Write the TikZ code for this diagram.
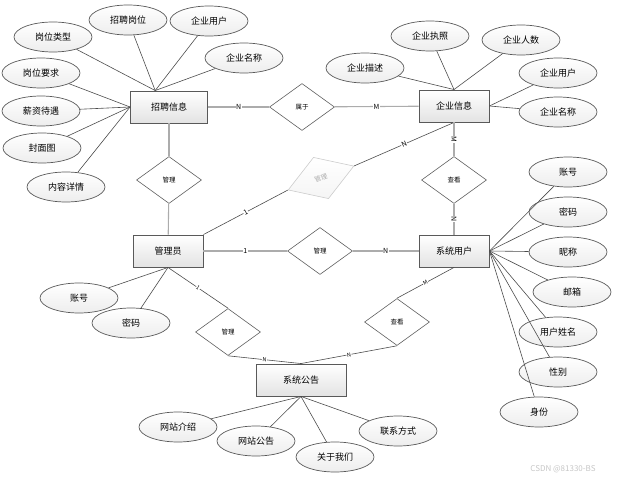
\documentclass[tikz,border=0pt]{standalone}
\usepackage{fontspec}
\setmainfont{Noto Sans CJK SC}
\usetikzlibrary{shapes.geometric}

\tikzset{
	ent/.style={draw=gray!70!black, line width=0.9pt, top color=white, bottom color=gray!22, minimum width=70pt, minimum height=32pt, inner sep=0pt, font=\fontsize{9}{10}\selectfont},
	attr/.style={ellipse, draw=gray!70!black, line width=0.7pt, top color=white, bottom color=gray!14, minimum width=78pt, minimum height=30pt, inner sep=0pt, font=\fontsize{9}{10}\selectfont},
	rel/.style={diamond, draw=gray!75!black, line width=0.6pt, fill=white, minimum width=65pt, minimum height=47pt, inner sep=0pt, font=\fontsize{6.5}{7}\selectfont},
	lnk/.style={draw=gray!60!black, line width=0.6pt},
	rln/.style={draw=gray!65, line width=1.1pt},
	card/.style={fill=white, inner sep=0.5pt, text=black, font=\fontsize{7}{8}\selectfont},
	smallcard/.style={card, font=\fontsize{5.5}{6}\selectfont},
}

\begin{document}
\begin{tikzpicture}[x=1pt, y=-1pt]
			\useasboundingbox (0,0) rectangle (626,481);

			\node[ent, minimum width=77pt] (zp) at (169,107) {招聘信息};
			\node[ent] (qy) at (454,106) {企业信息};
			\node[ent] (gly) at (168,251) {管理员};
			\node[ent] (yh) at (454,251) {系统用户};
			\node[ent, minimum width=90pt] (gg) at (301,380) {系统公告};

			\node[rel] (sy) at (302,107) {属于};
			\node[rel] (gl1) at (169,180) {管理};
			\node[rel, rotate=20, minimum width=70pt, minimum height=44pt, draw=gray!40, top color=white, bottom color=gray!8, text=gray!65] (gl2) at (321,178) {管理};
			\node[rel] (ck1) at (454,180) {查看};
			\node[rel] (gl3) at (320,251) {管理};
			\node[rel] (gl4) at (228,332) {管理};
			\node[rel] (ck2) at (397,322) {查看};

			\node[attr] (a1) at (53,37) {岗位类型};
			\node[attr] (a2) at (128,20) {招聘岗位};
			\node[attr] (a3) at (209,21) {企业用户};
			\node[attr] (a4) at (244,58) {企业名称};
			\node[attr] (a5) at (41,73) {岗位要求};
			\node[attr] (a6) at (41,111) {薪资待遇};
			\node[attr] (a7) at (42,148) {封面图};
			\node[attr] (a8) at (66,187) {内容详情};

			\node[attr] (b1) at (365,68) {企业描述};
			\node[attr] (b2) at (430,36) {企业执照};
			\node[attr] (b3) at (521,40) {企业人数};
			\node[attr] (b4) at (558,73) {企业用户};
			\node[attr] (b5) at (558,112) {企业名称};

			\node[attr] (c1) at (568,172) {账号};
			\node[attr] (c2) at (568,212) {密码};
			\node[attr] (c3) at (568,252) {昵称};
			\node[attr] (c4) at (572,292) {邮箱};
			\node[attr] (c5) at (558,332) {用户姓名};
			\node[attr] (c6) at (558,372) {性别};
			\node[attr] (c7) at (539,412) {身份};

			\node[attr] (d1) at (79,298) {账号};
			\node[attr] (d2) at (131,323) {密码};

			\node[attr] (e1) at (178,427) {网站介绍};
			\node[attr] (e2) at (256,441) {网站公告};
			\node[attr] (e3) at (335,457) {关于我们};
			\node[attr] (e4) at (398,431) {联系方式};

			\draw[lnk] (a1) to (zp.130);
			\draw[lnk] (a2) to (zp.130);
			\draw[lnk] (a3) to (zp.130);
			\draw[lnk] (a4) to (zp.130);
			\draw[lnk] (a5) to (zp.west);
			\draw[lnk] (a6) to (zp.west);
			\draw[lnk] (a7) to (zp.west);
			\draw[lnk] (a8) to (zp.west);

			\draw[lnk] (b1) to (qy.north);
			\draw[lnk] (b2) to (qy.north);
			\draw[lnk] (b3) to (qy.north);
			\draw[lnk] (b4) to (qy.east);
			\draw[lnk] (b5) to (qy.east);

			\draw[lnk] (c1) to (yh.east);
			\draw[lnk] (c2) to (yh.east);
			\draw[lnk] (c3) to (yh.east);
			\draw[lnk] (c4) to (yh.east);
			\draw[lnk] (c5) to (yh.east);
			\draw[lnk] (c6) to (yh.east);
			\draw[lnk] (c7) to (yh.east);

			\draw[lnk] (d1) to (gly.south);
			\draw[lnk] (d2) to (gly.south);

			\draw[lnk] (e1) to (gg.south);
			\draw[lnk] (e2) to (gg.south);
			\draw[lnk] (e3) to (gg.south);
			\draw[lnk] (e4) to (gg.south);

			\draw[rln] (zp) to node[card] {N} (sy);
			\draw[rln] (sy) to node[card] {M} (qy);
			\draw[rln] (zp) to (gl1);
			\draw[rln] (gl1) to (gly);
			\draw[lnk] (gly.north east) to node[card, sloped] {1} (gl2.west);
			\draw[lnk] (gl2.east) to node[card, sloped] {N} (qy.south);
			\draw[rln] (qy) to node[card, sloped] {M} (ck1);
			\draw[rln] (ck1) to node[card, sloped] {N} (yh);
			\draw[rln] (gly) to node[card] {1} (gl3);
			\draw[rln] (gl3) to node[card] {N} (yh);
			\draw[lnk] (gly.south) to node[smallcard, sloped] {1} (gl4.north);
			\draw[lnk] (gl4.south) to node[smallcard, sloped] {N} (gg.north);
			\draw[lnk] (yh.south) to node[smallcard, sloped] {M} (ck2.north);
			\draw[lnk] (ck2.south) to node[smallcard, sloped] {N} (gg.north);

			\node[text=gray!45, font=\fontsize{8}{9}\selectfont] (wm) at (563,469) {CSDN @81330-BS};
		\end{tikzpicture}
\end{document}
